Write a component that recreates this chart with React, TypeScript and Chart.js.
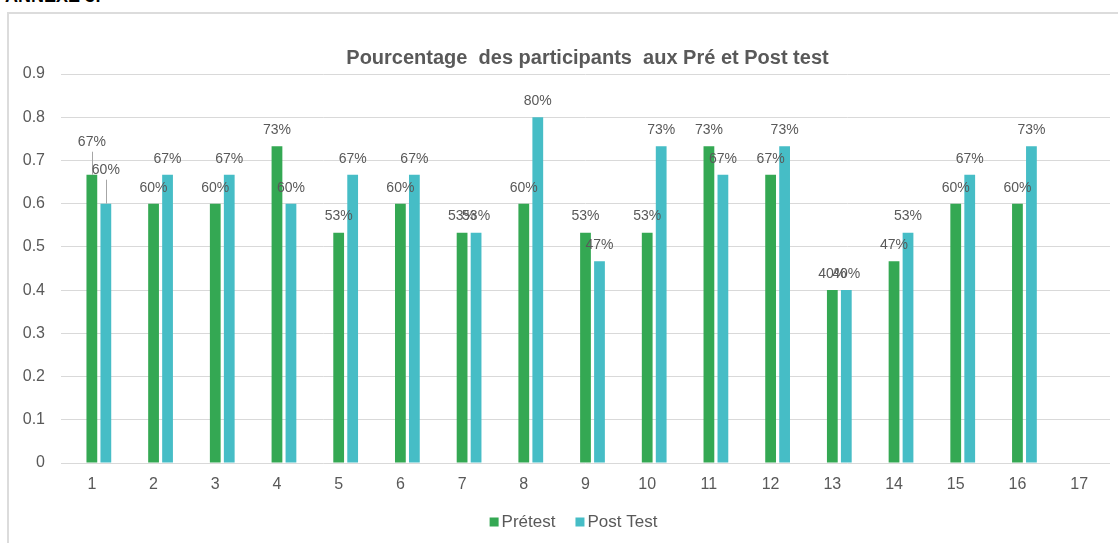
import React, { useEffect, useRef } from "react";
import { Chart, registerables } from "chart.js";

Chart.register(...registerables);

const categories = ["1", "2", "3", "4", "5", "6", "7", "8", "9", "10", "11", "12", "13", "14", "15", "16", "17"];
const pretest = [0.667, 0.6, 0.6, 0.733, 0.533, 0.6, 0.533, 0.6, 0.533, 0.533, 0.733, 0.667, 0.4, 0.467, 0.6, 0.6, null];
const postTest = [0.6, 0.667, 0.667, 0.6, 0.667, 0.667, 0.533, 0.8, 0.467, 0.733, 0.667, 0.733, 0.4, 0.533, 0.667, 0.733, null];
const emptySeries = categories.map(() => null);
const seriesNames = ["Prétest", "Post Test"];
const chartTitle = "Pourcentage  des participants  aux Pré et Post test";
const yMin = 0;
const yMax = 0.9;
const yStep = 0.1;

const GREEN = "#34A853";
const CYAN = "#46BDC6";
const TEXT = "#595959";
const GRID = "#d9d9d9";
const FONT = "'Liberation Sans', Arial, sans-serif";

// extra lift (px) for labels that were moved, with leader lines: key "series-category"
const labelLift: Record<string, number> = { "0-0": 17, "1-0": 18 };

const overlayPlugin = {
  id: "overlay",
  afterDatasetsDraw(chart: any) {
    const ctx = chart.ctx as CanvasRenderingContext2D;
    ctx.save();
    ctx.font = `14px ${FONT}`;
    ctx.textAlign = "center";
    ctx.textBaseline = "middle";
    [1, 2].forEach((di) => {
      const meta = chart.getDatasetMeta(di);
      const data = chart.data.datasets[di].data as (number | null)[];
      meta.data.forEach((bar: any, i: number) => {
        const v = data[i];
        if (v == null) return;
        const lift = labelLift[`${di - 1}-${i}`] || 0;
        const cy = bar.y - 16 - lift;
        if (lift) {
          ctx.strokeStyle = "#a6a6a6";
          ctx.lineWidth = 1;
          ctx.beginPath();
          const lx = Math.round(bar.x) + 0.5;
          ctx.moveTo(lx, cy + 10);
          ctx.lineTo(lx, bar.y);
          ctx.stroke();
        }
        ctx.fillStyle = TEXT;
        ctx.fillText(Math.round(v * 100) + "%", bar.x, cy);
      });
    });
    ctx.restore();
  },
  afterDraw(chart: any) {
    const ctx = chart.ctx as CanvasRenderingContext2D;
    const area = chart.chartArea;
    ctx.save();
    // title
    ctx.font = `bold 20px ${FONT}`;
    ctx.fillStyle = TEXT;
    ctx.textAlign = "center";
    ctx.textBaseline = "alphabetic";
    ctx.fillText(chartTitle, (area.left + area.right) / 2 + 2, 64);
    // legend
    ctx.font = `17px ${FONT}`;
    ctx.textAlign = "left";
    ctx.textBaseline = "middle";
    const colors = [GREEN, CYAN];
    const box = 9;
    const gapBox = 3;
    const gapItems = 20;
    const widths = seriesNames.map((n) => box + gapBox + ctx.measureText(n).width);
    const total = widths.reduce((a, b) => a + b, 0) + gapItems * (seriesNames.length - 1);
    let x = (area.left + area.right) / 2 - total / 2 - 12;
    const cy = 522;
    seriesNames.forEach((n, k) => {
      ctx.fillStyle = colors[k];
      ctx.fillRect(x, cy - box / 2, box, box);
      ctx.fillStyle = TEXT;
      ctx.fillText(n, x + box + gapBox, cy + 0.5);
      x += widths[k] + gapItems;
    });
    ctx.restore();
  },
};

export default function App() {
  const ref = useRef<HTMLCanvasElement | null>(null);
  useEffect(() => {
    if (!ref.current) return;
    const chart = new Chart(ref.current, {
      type: "bar",
      data: {
        labels: categories,
        datasets: [
          { label: "", data: emptySeries as any, backgroundColor: "rgba(0,0,0,0)" },
          { label: seriesNames[0], data: pretest as any, backgroundColor: GREEN },
          { label: seriesNames[1], data: postTest as any, backgroundColor: CYAN },
        ],
      },
      options: {
        responsive: false,
        animation: false,
        devicePixelRatio: 1,
        layout: { padding: { top: 74, right: 8, left: 0, bottom: 0 } },
        datasets: { bar: { categoryPercentage: 0.68, barPercentage: 0.77 } },
        plugins: {
          legend: { display: false },
          title: { display: false },
          tooltip: { enabled: false },
        },
        scales: {
          x: {
            grid: { display: false, drawTicks: false },
            border: { display: false },
            ticks: { color: TEXT, font: { family: FONT, size: 16 }, padding: 12, maxRotation: 0, autoSkip: false },
            afterFit: (s: any) => {
              s.height = 80;
            },
          },
          y: {
            min: yMin,
            max: yMax,
            grid: { color: GRID, lineWidth: 1, drawTicks: false },
            border: { display: false },
            ticks: {
              stepSize: yStep,
              color: TEXT,
              font: { family: FONT, size: 16 },
              padding: 16,
              callback: (v: any) => String(Number(Number(v).toFixed(1))),
            },
            afterFit: (s: any) => {
              s.width = 61;
            },
          },
        },
      },
      plugins: [overlayPlugin],
    });
    return () => chart.destroy();
  }, []);

  return (
    <div style={{ position: "fixed", left: 0, top: 0, width: 1118, height: 543, background: "#fff", overflow: "hidden" }}>
      <div
        style={{
          position: "absolute",
          left: 5,
          top: -14,
          fontFamily: FONT,
          fontSize: 18,
          fontWeight: "bold",
          color: "#000",
          whiteSpace: "nowrap",
        }}
      >
        ANNEXE 3:
      </div>
      <div
        style={{
          position: "absolute",
          left: 7,
          top: 12,
          width: 1200,
          height: 600,
          borderLeft: "2px solid #dcdcdc",
          borderTop: "2px solid #dcdcdc",
        }}
      />
      <canvas ref={ref} width={1118} height={543} style={{ position: "absolute", left: 0, top: 0, width: 1118, height: 543 }} />
    </div>
  );
}
